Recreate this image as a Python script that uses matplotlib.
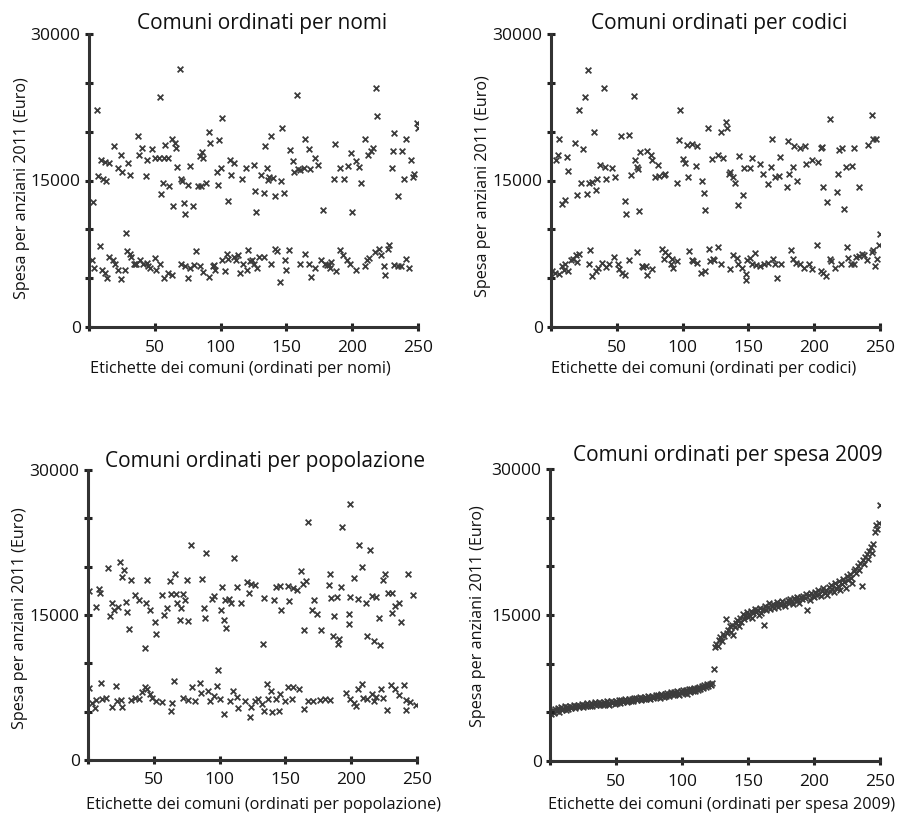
import numpy as np
import matplotlib
matplotlib.use('Agg')
import matplotlib.pyplot as plt

plt.rcParams['font.family'] = ['Open Sans', 'DejaVu Sans']

W, H = 901, 815

# Comuni ordinati per nomi (etichetta, spesa 2011)
nomi_x = [3, 6, 7, 9, 11, 12, 13, 15, 19, 22, 24, 25, 30, 31, 37, 38, 40, 43, 44, 48,
          50, 53, 54, 55, 56, 57, 58, 60, 61, 63, 64, 65, 66, 67, 69, 70, 71, 72, 73, 75,
          77, 79, 83, 84, 85, 86, 87, 89, 91, 92, 97, 98, 99, 100, 101, 106, 107, 108, 110, 116,
          119,
          125, 126, 127, 131, 133, 134, 135, 136, 137, 138, 140, 141, 146, 147, 148, 153, 155, 156, 158, 159,
          160, 163, 164, 167, 168, 172, 174, 178, 186, 187, 191, 194, 197, 199, 200, 203, 205, 207, 210, 212,
          214, 216, 218, 219, 230, 231, 232, 235, 238, 239, 241, 245, 246, 247, 249, 250,
          2, 4, 8, 10, 12, 14, 15, 18, 20, 22, 24, 27, 28, 29, 31, 32, 34, 35, 36, 39,
          41, 44, 45, 46, 50, 51, 54, 57, 60, 63, 70, 73, 75, 77, 80, 81, 84, 87, 91, 94,
          95, 96, 101, 103, 105, 106, 110, 112, 113, 115, 117, 120, 121, 122,
          124, 125, 128, 129, 133, 138, 141, 143, 145, 149, 150, 152, 160, 164, 167, 169, 172, 176, 179, 181,
          182, 183, 184, 188, 191, 193, 196, 198, 203, 210, 211, 213, 217, 220, 222, 224, 225, 227, 228, 232,
          235, 237, 241, 243]
nomi_y = [12800, 22200, 15500, 17100, 15200, 16900, 14900, 16800, 18500, 16300, 17600, 15900, 16800, 15600, 19600, 17600, 18300, 15500, 17100, 18200,
          17300, 17300, 23500, 13600, 14700, 17300, 18600, 17300, 14400, 19200, 12400, 18800, 18300, 16400, 26400, 15200, 14900, 12700, 11600, 14500,
          16500, 12400, 14400, 17500, 14400, 17900, 17300, 14700, 20000, 18800, 15900, 14500, 19100, 16300, 21400, 12900, 17100, 15600, 16800, 15200,
          16300,
          16600, 13900, 11800, 15600, 13700, 18500, 16300, 15100, 15400, 19600, 15300, 13400, 14900, 20400, 13700, 18100, 17000, 15900, 23800, 16200,
          16100, 16300, 19200, 18200, 16200, 17300, 16600, 12000, 15200, 18700, 16300, 15200, 16500, 17800, 11800, 17000, 16400, 14700, 19200, 17600,
          18000, 18300, 24500, 21600, 16300, 18000, 19900, 13400, 18000, 15200, 19200, 17100, 15400, 15700, 20900, 20400,
          6900, 6000, 8300, 5800, 5500, 5000, 7200, 6900, 6500, 5800, 4900, 5800, 9600, 7800, 7500, 7200, 6400, 6500, 6400, 6900,
          6500, 6600, 6200, 6000, 7100, 5800, 6400, 5000, 5500, 5300, 6400, 6200, 5000, 6000, 6300, 7800, 6200, 5600, 5100, 6200,
          6300, 5800, 6900, 5700, 7500, 7000, 7200, 6900, 7400, 5500, 6500, 5800, 7900, 6800,
          6900, 6500, 6000, 7200, 7200, 6500, 8000, 7800, 4600, 6900, 5800, 7900, 6500, 7500, 6400, 5100, 6000, 6900, 6500, 6300,
          6300, 6000, 6700, 5700, 7900, 7400, 6900, 6500, 5800, 6200, 6900, 7100, 7700, 8000, 7400, 6200, 5300, 8000, 8400, 6300,
          6200, 6200, 7000, 6000]

# Comuni ordinati per codici
codici_x = [4, 5, 6, 8, 11, 12, 13, 18, 20, 21, 23, 24, 26, 27, 28, 29, 31, 33, 34, 35,
            37, 40, 41, 42, 46, 49, 53, 56, 57, 59, 61, 63, 64, 65, 66, 67, 68, 73, 76, 77,
            79, 81, 82, 86, 87, 96, 97, 98, 100, 102, 103, 104, 107, 110, 111, 115, 116, 117, 119, 122,
            127, 129, 131, 133, 134, 135, 136, 138, 140, 142, 143, 146, 147, 151, 153, 159, 161, 165, 167, 168,
            170, 173, 174, 179, 180, 181, 184, 185, 187, 189, 193, 194, 198, 203, 205, 206, 207, 210, 212, 217,
            218, 219, 221, 223, 224, 229, 230, 234, 241, 244, 245, 247,
            1, 3, 6, 8, 10, 11, 13, 15, 17, 19, 20, 21, 29, 30, 31, 34, 36, 39, 42, 44,
            48, 51, 52, 54, 56, 59, 65, 69, 70, 72, 73, 77, 84, 86, 87, 89, 91, 92, 93, 96,
            105, 107, 108, 111, 114, 117, 120, 121, 123,
            124, 127, 129, 136, 138, 141, 142, 145, 148, 148, 149, 151, 153, 155, 156, 159, 162, 165, 169, 170,
            172, 175, 182, 184, 186, 189, 192, 196, 198, 202, 205, 207, 209, 212, 213, 216, 220, 225, 226, 228,
            230, 232, 234, 236, 238, 240, 244, 245, 246, 248, 249, 250]
codici_y = [17100, 17600, 19200, 12600, 13000, 17400, 16000, 18800, 13500, 22200, 14700, 18200, 23500, 13600, 26300, 14700, 14800, 20000, 14000, 15200,
            16600, 24500, 16400, 15200, 16300, 15400, 19600, 12900, 11600, 19700, 15600, 23700, 17100, 16400, 16200, 11900, 17900, 18000, 17600, 17100,
            15400, 16600, 15500, 15600, 15700, 14700, 19100, 22200, 17200, 16800, 18600, 15400, 18700, 16500, 18500, 15000, 13700, 12000, 20400, 17200,
            17600, 20000, 17300, 21000, 20400, 15700, 15900, 15400, 14700, 12500, 17500, 13500, 16300, 16300, 17300, 16700, 15700, 14600, 16400, 19200,
            15400, 15500, 17400, 14300, 19000, 15700, 16400, 18500, 14900, 18300, 18500, 16700, 17100, 16900, 18300, 18400, 14300, 12800, 21300, 13800,
            15700, 18100, 18300, 12100, 16400, 16500, 18300, 14300, 18600, 21700, 19200, 19300,
            5700, 5500, 5400, 6200, 5800, 6500, 5700, 6900, 7000, 7400, 6700, 7500, 6500, 7900, 5200, 5700, 6000, 6600, 6100, 6400,
            7200, 6400, 5900, 5500, 5300, 6900, 7700, 6200, 6100, 6200, 5300, 5900, 8000, 7000, 7700, 7400, 6400, 7000, 6000, 6800,
            7800, 6900, 6800, 6600, 5500, 5700, 8000, 6800, 7000,
            6900, 8200, 6400, 5900, 7400, 7100, 6500, 6000, 4800, 5400, 6900, 7100, 6400, 7600, 6300, 6200, 6400, 6600, 7000, 6400,
            5000, 6500, 7900, 7000, 6600, 6400, 6000, 6500, 5900, 8400, 5700, 5500, 5200, 7000, 6800, 6000, 6400, 8200, 7100, 6500,
            6400, 7200, 7300, 7500, 7400, 6900, 7700, 7900, 6200, 7000, 8400, 9500]

# Comuni ordinati per popolazione
popolazione_x = [1, 6, 8, 9, 15, 17, 18, 20, 23, 24, 26, 27, 29, 30, 31, 33, 36, 39, 43, 44,
                 45, 47, 51, 52, 56, 58, 60, 62, 63, 66, 67, 68, 70, 71, 72, 74, 75, 76, 78, 87,
                 88, 89, 90, 94, 96, 101, 102, 103, 104, 105, 107, 109, 111, 113, 116, 121, 122, 124,
                 127, 133, 134, 141, 143, 146, 147, 152, 153, 156, 159, 162, 163, 164, 166, 167, 170, 172, 174, 177,
                 183, 184, 185, 186, 187, 189, 190, 191, 192, 193, 198, 198, 199, 199, 202, 205, 206, 208, 211, 212,
                 214, 216, 217, 219, 221, 222, 224, 226, 228, 231, 231, 233, 236, 238, 243, 247,
                 1, 3, 5, 6, 10, 11, 14, 18, 21, 22, 25, 26, 33, 36, 39, 41, 43, 45, 47, 49,
                 52, 56, 63, 64, 65, 72, 76, 79, 81, 85, 86, 91, 93, 96, 98, 99, 100, 103, 108, 110,
                 113, 114, 119, 123, 124,
                 127, 129, 132, 134, 136, 137, 139, 140, 143, 145, 146, 150, 152, 155, 156, 160, 164, 167, 171, 176,
                 180, 184, 196, 199, 202, 204, 205, 208, 209, 212, 216, 217, 219, 223, 224, 227, 230, 233, 236, 240,
                 242, 242, 245, 249]
popolazione_y = [17500, 15800, 17700, 17300, 19900, 14900, 16200, 15500, 15800, 20500, 18900, 19700, 16300, 15300, 13600, 18600, 17100, 16600, 11600, 16200,
                 18600, 15500, 14300, 13000, 17100, 15000, 15700, 18500, 17200, 19200, 17200, 16200, 14500, 15700, 17200, 16600, 18600, 14400, 22200, 18700,
                 15700, 14700, 21400, 16700, 17000, 15500, 17900, 14500, 16600, 13700, 16700, 16200, 20900, 17900, 16200, 18400, 17300, 18200,
                 18100, 12000, 16800, 16600, 17900, 18000, 15500, 18000, 16400, 17800, 17600, 19600, 18200, 13400, 18500, 24600, 15500, 16600, 15100, 13500,
                 18100, 19200, 16800, 12800, 14900, 16900, 12000, 12500, 17900, 24100, 15100, 14100, 26500, 16900, 18800, 16700, 22200, 20000, 16200, 12800,
                 21700, 17000, 12300, 16900, 14700, 11900, 18600, 19200, 17300, 17300, 15200, 15900, 16200, 14300, 19200, 17100,
                 7500, 5900, 5400, 6200, 8000, 6300, 6400, 5500, 7700, 6100, 6200, 5500, 6200, 6400, 6300, 7000, 7600, 7300, 6800, 6400,
                 6100, 6000, 5100, 5900, 8200, 6400, 6200, 7600, 6100, 8000, 6900, 7100, 6100, 6600, 7700, 9300, 6300, 4800, 6100, 7100,
                 6500, 5400, 6100, 4500, 5500,
                 6100, 6300, 5800, 5100, 7900, 6300, 7100, 5000, 6300, 5100, 6800, 6100, 7600, 6300, 7600, 7300, 5300, 6100, 6100, 6200,
                 6300, 6200, 6900, 6300, 5900, 5600, 7300, 7900, 6400, 6300, 6800, 6100, 6500, 7300, 6400, 5200, 7800, 7300, 6700, 7800,
                 5200, 6200, 6000, 5700]

# Comuni ordinati per spesa 2009 (etichette 1..250)
spesa2009_y = [4800, 5200, 4950, 5300, 5100, 5400, 5000, 5500, 5200, 5350,
               5600, 5250, 5550, 5350, 5700, 5400, 5500, 5750, 5450, 5650,
               5800, 5500, 5700, 5900, 5550, 5800, 5600, 5950, 5750, 5650,
               5950, 5700, 5900, 6050, 5750, 5850, 6100, 5800, 6000, 5750,
               6100, 5850, 6150, 5900, 5800, 6200, 5950, 6100, 5850, 6200,
               6000, 6250, 5950, 6300, 6050, 6200, 6350, 6100, 6150, 6400,
               6200, 6400, 6150, 6450, 6500, 6250, 6400, 6550, 6250, 6500,
               6400, 6600, 6350, 6650, 6450, 6400, 6700, 6450, 6600, 6750,
               6550, 6800, 6500, 6850, 6650, 6600, 6900, 6700, 7000, 6650,
               6900, 7050, 6750, 7100, 6850, 7150, 6900, 6750, 7200, 6950,
               7250, 7000, 7300, 6900, 7350, 7050, 7400, 7150, 7450, 7200,
               7500, 7250, 7600, 7400, 7700, 7500, 7800, 7600, 7900, 7700,
               7900, 7850, 8000, 9500, 11700, 12000, 11800, 12400, 12700, 12300,
               13000, 12800, 14600, 13200, 13500, 13900, 13300, 14000, 12900, 13800,
               14200, 14500, 13900, 14700, 14300, 15100, 14600, 14900, 15300, 14800,
               15000, 15400, 14700, 15200, 15600, 15300, 15500, 15000, 15700, 15200,
               15600, 14000, 15900, 15500, 15800, 16200, 15600, 15900, 16100, 15700,
               16000, 16300, 15800, 16200, 16000, 16400, 16100, 15900, 16300, 16500,
               16200, 16600, 16300, 16100, 16700, 16400, 16800, 16500, 16200, 16900,
               16600, 17000, 16700, 17200, 15500, 17100, 16500, 17300, 17000, 16900,
               17400, 17100, 17600, 17200, 17000, 17500, 17800, 17300, 17600, 17100,
               17900, 17500, 18100, 17700, 17400, 18300, 17800, 18000, 18500, 17600,
               18200, 18700, 18400, 17800, 19000, 18600, 19200, 18800, 18300, 19500,
               19700, 19300, 20000, 19600, 20300, 18000, 20600, 20200, 21000, 21300,
               20800, 21600, 22000, 21400, 22300, 23500, 24200, 23800, 24500, 26300]
spesa2009_x = np.arange(1, len(spesa2009_y) + 1)

y_ticks = [0, 5000, 10000, 15000, 20000, 25000, 30000]
y_tick_labels = ['0', '', '', '15000', '', '', '30000']
x_ticks = [0, 50, 100, 150, 200, 250]
x_tick_labels = ['', '50', '100', '150', '200', '250']


def px_box(left, top, right, bottom):
  return [left / W, 1 - bottom / H, (right - left) / W, (bottom - top) / H]


def draw_panel(fig, box, x, y, title, title_xy, xlabel, xlabel_xy, ylabel_xy):
  ax = fig.add_axes(px_box(*box))
  ax.scatter(x, y, marker='x', s=17, linewidths=1.3, color='#3c3c3c')
  ax.set_xlim(0, 250)
  ax.set_ylim(0, 30000)
  ax.set_xticks(x_ticks)
  ax.set_xticklabels(x_tick_labels)
  ax.set_yticks(y_ticks)
  ax.set_yticklabels(y_tick_labels)
  ax.spines['top'].set_visible(False)
  ax.spines['right'].set_visible(False)
  for s in ['left', 'bottom']:
    ax.spines[s].set_linewidth(2.2)
    ax.spines[s].set_color('#333333')
  ax.tick_params(direction='inout', length=6, width=2.2, color='#222222',
                 labelsize=12.5, labelcolor='#111111')
  ax.tick_params(axis='x', pad=6)
  ax.tick_params(axis='y', pad=3)
  ax.patch.set_alpha(0)

  fig.text(title_xy[0] / W, 1 - title_xy[1] / H, title, ha='center', va='center',
           fontsize=15, color='#111111')
  fig.text(xlabel_xy[0] / W, 1 - xlabel_xy[1] / H, xlabel, ha='center', va='center',
           fontsize=11.7, color='#111111')
  fig.text(ylabel_xy[0] / W, 1 - ylabel_xy[1] / H, 'Spesa per anziani 2011 (Euro)', ha='center',
           va='center', rotation=90, fontsize=11.6, color='#111111')
  return ax


fig = plt.figure(figsize=(W / 100, H / 100), dpi=100)

draw_panel(fig, (89, 34, 418, 327), nomi_x, nomi_y, 'Comuni ordinati per nomi', (262, 23),
           'Etichette dei comuni (ordinati per nomi)', (240, 369), (22, 188))
draw_panel(fig, (551, 34, 880, 327), codici_x, codici_y, 'Comuni ordinati per codici', (719, 23),
           'Etichette dei comuni (ordinati per codici)', (704, 369), (483, 186))
draw_panel(fig, (88, 470, 417, 760), popolazione_x, popolazione_y, 'Comuni ordinati per popolazione', (265, 462),
           'Etichette dei comuni (ordinati per popolazione)', (263, 805), (20, 618))
draw_panel(fig, (550, 469, 880, 761), spesa2009_x, spesa2009_y, 'Comuni ordinati per spesa 2009', (728, 456),
           'Etichette dei comuni (ordinati per spesa 2009)', (722, 805), (478, 616))

fig.savefig('out.png', dpi=100)
